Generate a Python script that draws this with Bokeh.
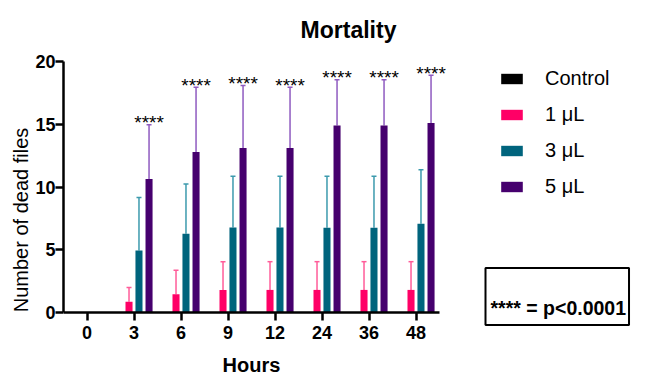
from bokeh.plotting import figure
from bokeh.models import (ColumnDataSource, Range1d, Whisker, TeeHead, Legend,
                          LegendItem, Label, FixedTicker, Title)
from bokeh.transform import dodge
from bokeh.core.properties import value
from bokeh.embed import file_html
from bokeh.resources import INLINE

# ---- data ----
hours = ["0", "3", "6", "9", "12", "24", "36", "48"]
control = [0, 0, 0, 0, 0, 0, 0, 0]
ul1 = [0, 0.85, 1.45, 1.8, 1.8, 1.8, 1.8, 1.8]
ul1_sd = [0, 1.15, 1.92, 2.25, 2.25, 2.25, 2.25, 2.25]
ul3 = [0, 4.95, 6.27, 6.77, 6.77, 6.75, 6.75, 7.07]
ul3_sd = [0, 4.22, 3.96, 4.08, 4.08, 4.1, 4.1, 4.31]
ul5 = [0, 10.63, 12.78, 13.1, 13.1, 14.9, 14.9, 15.1]
ul5_sd = [0, 4.34, 5.16, 4.98, 4.84, 3.65, 3.65, 3.8]
stars = ["", "****", "****", "****", "****", "****", "****", "****"]
series_names = ["Control", "1 μL", "3 μL", "5 μL"]
y_ticks = [0, 5, 10, 15, 20]
note = "**** = p<0.0001"

FONT = "Liberation Sans"
bar_colors = ["#000000", "#FF0066", "#00647D", "#46006E"]
err_colors = ["#000000", "#FF5C99", "#3C9AAD", "#8F5BC0"]
offsets = [-0.32, -0.106, 0.106, 0.32]
bar_w = 0.15

pos = list(range(len(hours)))
means = [control, ul1, ul3, ul5]
sds = [control, ul1_sd, ul3_sd, ul5_sd]

# layout geometry (pixels)
FW, FH = 570, 317          # frame covers everything right of / below the axes
UNIT_X = 47                # px per category
PLOT_H = 251               # px for 0..20
y_min = -20 * (FH - PLOT_H) / PLOT_H
x_max = -0.5 + FW / UNIT_X

p = figure(x_range=Range1d(-0.5, x_max), y_range=Range1d(y_min, 20),
           width=633, height=370, frame_width=FW, frame_height=FH,
           min_border_left=63, min_border_top=53, min_border_right=0, min_border_bottom=0,
           output_backend="svg", toolbar_location=None)
p.title = Title(text="Mortality", align="center", text_font=FONT, text_font_size="23px",
                text_font_style="bold", text_color="black", vertical_align="top",
                standoff=33)

p.background_fill_color = None
p.border_fill_color = "white"
p.outline_line_color = None
p.xgrid.grid_line_color = None
p.ygrid.grid_line_color = None

data = dict(pos=pos, stars=stars)
for i in range(4):
    data["s%d" % i] = means[i]
    data["e%d" % i] = [m + s for m, s in zip(means[i], sds[i])]
src = ColumnDataSource(data)

renderers = []
for i in range(4):
    r = p.vbar(x=dodge("pos", offsets[i]), top="s%d" % i, width=bar_w,
               source=src, fill_color=bar_colors[i], line_color=None)
    renderers.append(r)

# error bars (upper only), only where data present
for i in (1, 2, 3):
    idx = [k for k, v in enumerate(means[i]) if v > 0]
    esrc = ColumnDataSource(dict(pos=[pos[k] for k in idx],
                                 lower=[data["s%d" % i][k] for k in idx],
                                 upper=[data["e%d" % i][k] for k in idx]))
    w = Whisker(base=dodge("pos", offsets[i]), lower="lower", upper="upper",
                source=esrc, line_color=err_colors[i], line_width=1.5,
                upper_head=TeeHead(size=5, line_color=err_colors[i], line_width=1.5),
                lower_head=None)
    p.add_layout(w)

# significance stars
p.text(x=dodge("pos", offsets[3]), y="e3", text="stars", source=src,
       text_font=value(FONT), text_font_size="19px", text_align="center",
       text_baseline="alphabetic", y_offset=-2, text_color="black")

# axes
for ax in (p.xaxis[0], p.yaxis[0]):
    ax.axis_line_width = 2.5
    ax.axis_line_color = "black"
    ax.major_tick_line_width = 2.5
    ax.major_tick_line_color = "black"
    ax.major_tick_out = 8
    ax.major_tick_in = 0
    ax.minor_tick_line_color = None
    ax.major_label_text_font = FONT
    ax.major_label_text_font_size = "18px"
    ax.major_label_text_font_style = "bold"
    ax.major_label_text_color = "black"
    ax.axis_label_text_font = FONT
    ax.axis_label_text_color = "black"

p.yaxis.ticker = FixedTicker(ticks=y_ticks)
p.yaxis.bounds = (0, 20)
p.yaxis.major_label_standoff = 0
p.yaxis.axis_label = "Number of dead files"
p.yaxis.axis_label_text_font_size = "20px"
p.yaxis.axis_label_text_font_style = "normal"
p.yaxis.axis_label_standoff = 0

p.xaxis.ticker = FixedTicker(ticks=pos)
p.xaxis.major_label_overrides = {k: h for k, h in zip(pos, hours)}
p.xaxis.bounds = (-0.5, len(hours) - 0.5)
p.xaxis.fixed_location = 0
p.xaxis.major_label_standoff = 5
p.xaxis.axis_label = "Hours"
p.xaxis.axis_label_text_font_size = "20px"
p.xaxis.axis_label_text_font_style = "bold"
p.xaxis.axis_label_standoff = 12

legend = Legend(items=[LegendItem(label=n, renderers=[r]) for n, r in zip(series_names, renderers)],
                location=(435, 180), padding=0, margin=0, spacing=13,
                glyph_width=27, glyph_height=13, label_height=23, label_standoff=20,
                label_text_font=FONT, label_text_font_size="20px", label_text_color="black",
                border_line_color=None, background_fill_alpha=0)
p.add_layout(legend)

box = Label(x=422, y=82, x_units="screen", y_units="screen", text=note,
            text_font=FONT, text_font_size="19.5px", text_font_style="bold",
            text_baseline="middle", text_align="left", text_color="black",
            border_line_color="black", border_line_width=2,
            background_fill_color="white",
            padding=dict(left=5, right=3, top=29, bottom=6))
p.add_layout(box)

open("out.html", "w").write(file_html(p, INLINE))
